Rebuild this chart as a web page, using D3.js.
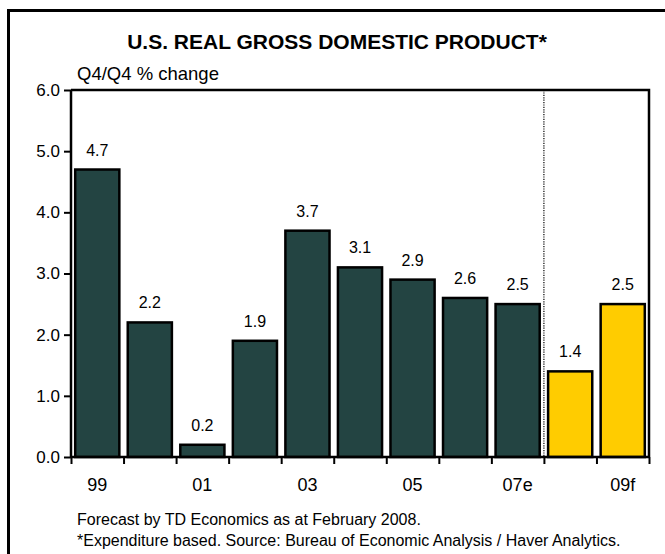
<!DOCTYPE html>
<html>
<head>
<meta charset="utf-8">
<script src="https://cdn.jsdelivr.net/npm/d3@7"></script>
<style>
  body { margin: 0; background: #fff; }
  text { font-family: "Liberation Sans", Arial, sans-serif; fill: #000; }
</style>
</head>
<body>
<div id="chart"></div>
<script>
// chart data
var years = ["99", "00", "01", "02", "03", "04", "05", "06", "07", "08", "09"];
var gdp = [4.7, 2.2, 0.2, 1.9, 3.7, 3.1, 2.9, 2.6, 2.5, 1.4, 2.5];
var forecast = [false, false, false, false, false, false, false, false, false, true, true];
var tickLabels = {"99": "99", "01": "01", "03": "03", "05": "05", "07": "07e", "09": "09f"};
var yTicks = [0, 1, 2, 3, 4, 5, 6];

var svgWidth = 665;
var svgHeight = 554;

var margin = { top: 90, right: 16, bottom: 97, left: 71 };
var chartWidth = 649 - margin.left;
var chartHeight = 457 - margin.top;

var svg = d3.select("#chart")
  .append("svg")
  .attr("width", svgWidth)
  .attr("height", svgHeight);

// outer frame (runs off the page on right and bottom)
svg.append("path")
  .attr("d", "M8.5,560 V10.5 H680")
  .attr("fill", "none")
  .attr("stroke", "#000")
  .attr("stroke-width", 3);

svg.append("text")
  .attr("x", 337)
  .attr("y", 49)
  .attr("text-anchor", "middle")
  .attr("font-size", "21px")
  .attr("font-weight", "bold")
  .text("U.S. REAL GROSS DOMESTIC PRODUCT*");

svg.append("text")
  .attr("x", 77)
  .attr("y", 80)
  .attr("font-size", "18.5px")
  .text("Q4/Q4 % change");

var chartGroup = svg.append("g")
  .attr("transform", `translate(${margin.left}, ${margin.top})`);

var xScale = d3.scaleBand()
  .domain(years)
  .range([0, chartWidth])
  .paddingInner(0.16)
  .paddingOuter(0.08);

var xBoundary = d3.scaleLinear()
  .domain([0, years.length])
  .range([0, chartWidth]);

var yScale = d3.scaleLinear()
  .domain([0, 6])
  .range([chartHeight, 0]);

// plot frame top and right
chartGroup.append("path")
  .attr("d", `M0,0 H${chartWidth} V${chartHeight}`)
  .attr("fill", "none")
  .attr("stroke", "#000")
  .attr("stroke-width", 2.5);

// dotted line between actual and forecast
chartGroup.append("line")
  .attr("x1", xBoundary(9))
  .attr("x2", xBoundary(9))
  .attr("y1", 0)
  .attr("y2", chartHeight)
  .attr("stroke", "#000")
  .attr("stroke-width", 1.2)
  .attr("stroke-dasharray", "1.2,1.2");

// bars
chartGroup.selectAll("rect.bar")
  .data(gdp)
  .enter()
  .append("rect")
  .attr("class", "bar")
  .attr("x", (d, i) => xScale(years[i]))
  .attr("y", d => yScale(d))
  .attr("width", xScale.bandwidth())
  .attr("height", d => chartHeight - yScale(d))
  .attr("fill", (d, i) => forecast[i] ? "#ffcc00" : "#234442")
  .attr("stroke", "#000")
  .attr("stroke-width", 2.5);

// value labels
chartGroup.selectAll("text.val")
  .data(gdp)
  .enter()
  .append("text")
  .attr("class", "val")
  .attr("x", (d, i) => xScale(years[i]) + xScale.bandwidth() / 2)
  .attr("y", d => yScale(d) - 14)
  .attr("text-anchor", "middle")
  .attr("font-size", "16px")
  .text(d => d.toFixed(1));

// y axis
var leftAxis = d3.axisLeft(yScale)
  .tickValues(yTicks)
  .tickFormat(d3.format(".1f"))
  .tickSize(7)
  .tickPadding(4);

var yAxisG = chartGroup.append("g").call(leftAxis);
yAxisG.select(".domain").attr("stroke-width", 2.5).attr("d", `M0,0 V${chartHeight}`);
yAxisG.selectAll(".tick line").attr("stroke-width", 2);
yAxisG.selectAll(".tick text")
  .attr("font-size", "17px")
  .attr("font-family", "Liberation Sans, Arial, sans-serif")
  .attr("fill", "#000");

// x axis: ticks on the category boundaries
var bottomAxis = d3.axisBottom(xBoundary)
  .tickValues(d3.range(years.length + 1))
  .tickFormat("")
  .tickSize(7);

var xAxisG = chartGroup.append("g")
  .attr("transform", "translate(0, " + chartHeight + ")")
  .call(bottomAxis);
xAxisG.select(".domain").attr("stroke-width", 2.5).attr("d", `M0,0 H${chartWidth}`);
xAxisG.selectAll(".tick line").attr("stroke-width", 2);

chartGroup.selectAll("text.cat")
  .data(years.filter(y => tickLabels[y]))
  .enter()
  .append("text")
  .attr("class", "cat")
  .attr("x", d => xScale(d) + xScale.bandwidth() / 2)
  .attr("y", chartHeight + 34)
  .attr("text-anchor", "middle")
  .attr("font-size", "18px")
  .text(d => tickLabels[d]);

// footnotes
svg.append("text")
  .attr("x", 77)
  .attr("y", 525)
  .attr("font-size", "16px")
  .text("Forecast by TD Economics as at February 2008.");

svg.append("text")
  .attr("x", 77)
  .attr("y", 546)
  .attr("font-size", "16px")
  .text("*Expenditure based. Source: Bureau of Economic Analysis / Haver Analytics.");
</script>
</body>
</html>
